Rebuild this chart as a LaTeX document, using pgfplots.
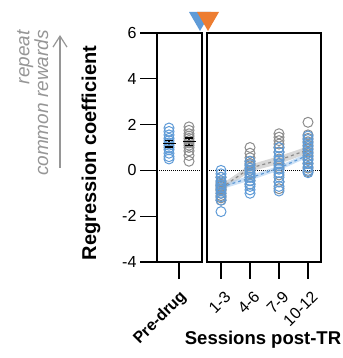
\documentclass[border=0pt]{standalone}
\usepackage{pgfplots}
\pgfplotsset{compat=1.18}
\usepackage{fontspec}
\setmainfont{Liberation Sans}
\usetikzlibrary{arrows.meta}
\definecolor{cblue}{RGB}{95,155,215}
\definecolor{cgray}{RGB}{140,140,140}
\definecolor{corange}{RGB}{237,125,49}
\definecolor{ctxt}{RGB}{150,150,150}
\definecolor{bandblue}{RGB}{170,205,240}
\definecolor{bandgray}{RGB}{190,190,190}
\pgfplotsset{panel/.style={
  scale only axis, height=229pt, ymin=-4, ymax=6,
  axis line style={line width=1.2pt},
  every tick/.append style={line width=1.2pt, black},
  tick align=outside, major tick length=17pt,
  clip=false,
  yticklabel style={font=\fontsize{16}{16}\selectfont},
  xticklabels={},
  xtick pos=bottom,
},
bluec/.style={only marks, mark=o, mark size=5pt, cblue, mark options={line width=1pt}},
grayc/.style={only marks, mark=o, mark size=5pt, cgray, mark options={line width=1pt}},
}
\tikzset{tlab/.style={rotate=45, anchor=east, inner sep=0pt, font=\fontsize{16}{16}\selectfont}}
\begin{document}
\begin{tikzpicture}
\useasboundingbox (0pt,0pt) rectangle (342pt,358pt);
% left panel
\begin{axis}[panel, at={(157pt,96pt)}, anchor=south west, width=45pt,
  xmin=0, xmax=45, xtick={22},
  ytick={-4,-2,0,2,4,6}, yticklabels={-4,-2,0,2,4,6}, ytick pos=left]
\addplot[densely dotted, black, line width=1pt] coordinates {(0,0) (45,0)};
\addplot[bluec] coordinates {(12,1.85) (12,1.7) (12,1.55) (12,1.4) (12,1.3) (12,1.2) (12,1.1) (12,1.0) (12,0.9) (12,0.75) (12,0.6) (12,0.5)};
\addplot[grayc] coordinates {(32,1.9) (32,1.75) (32,1.6) (32,1.5) (32,1.4) (32,1.3) (32,1.2) (32,1.1) (32,1.0) (32,0.85) (32,0.65) (32,0.4)};
% mean with SEM
\addplot[black, only marks, mark=-, mark size=6.5pt, mark options={line width=1.3pt},
  error bars/.cd, y dir=both, y explicit, error mark=none,
  error bar style={line width=1.3pt, black}]
  coordinates {(12,1.17) +- (0,0.15) (32,1.25) +- (0,0.16)};
\addplot[black, only marks, mark=-, mark size=4pt, mark options={line width=1.3pt}]
  coordinates {(12,1.32) (12,1.02) (32,1.41) (32,1.09)};
\node[tlab, font=\bfseries\fontsize{16}{16}\selectfont] at (axis cs:27,-5.42) {Pre-drug};
\end{axis}
% right panel
\begin{axis}[panel, at={(207pt,96pt)}, anchor=south west, width=114pt,
  xmin=0, xmax=114, xtick={14,43,72,101},
  ytick=\empty]
\addplot[densely dotted, black, line width=1pt] coordinates {(0,0) (114,0)};
\addplot[grayc] coordinates {(14,-0.3) (14,-0.5) (14,-0.6) (14,-0.65) (14,-0.7) (14,-0.8) (14,-0.85) (14,-0.9) (14,-1.0) (14,-1.1) (14,-1.2) (14,-1.3)
  (43,1.0) (43,0.75) (43,0.55) (43,0.4) (43,0.3) (43,0.2) (43,0.1) (43,0.0) (43,-0.15) (43,-0.3) (43,-0.45) (43,-0.6)
  (72,1.6) (72,1.45) (72,1.3) (72,1.15) (72,1.0) (72,0.8) (72,0.5) (72,0.3) (72,0.1) (72,-0.2) (72,-0.5) (72,-0.8)
  (101,2.1) (101,1.55) (101,1.4) (101,1.25) (101,1.1) (101,0.95) (101,0.8) (101,0.65) (101,0.5) (101,0.3) (101,0.1) (101,-0.05)};
\addplot[bluec] coordinates {(14,0.0) (14,-0.15) (14,-0.3) (14,-0.45) (14,-0.55) (14,-0.65) (14,-0.75) (14,-0.85) (14,-1.0) (14,-1.15) (14,-1.3) (14,-1.8)
  (43,0.4) (43,0.25) (43,0.1) (43,0.0) (43,-0.1) (43,-0.2) (43,-0.3) (43,-0.45) (43,-0.6) (43,-0.7) (43,-0.85) (43,-1.0)
  (72,1.0) (72,0.8) (72,0.6) (72,0.45) (72,0.3) (72,0.2) (72,0.05) (72,-0.1) (72,-0.3) (72,-0.5) (72,-0.7) (72,-0.9)
  (101,1.5) (101,1.35) (101,1.2) (101,1.05) (101,0.9) (101,0.75) (101,0.6) (101,0.45) (101,0.3) (101,0.15) (101,0.0) (101,-0.1)};
\addplot[draw=none, fill=bandgray, fill opacity=0.6] coordinates {(14,-0.62) (43,0.25) (72,0.62) (101,1.05) (101,0.75) (72,0.28) (43,-0.05) (14,-0.92)} --cycle;
\addplot[draw=none, fill=bandblue, fill opacity=0.6] coordinates {(14,-0.63) (43,-0.22) (72,0.2) (101,0.77) (101,0.57) (72,0.0) (43,-0.44) (14,-0.83)} --cycle;
\addplot[dashed, color=cgray, line width=1.2pt] coordinates {(14,-0.77) (43,0.1) (72,0.45) (101,0.9)};
\addplot[dashed, color=cblue, line width=1.2pt] coordinates {(14,-0.73) (43,-0.33) (72,0.1) (101,0.67)};
\node[tlab] at (axis cs:21,-5.40) {1-3};
\node[tlab] at (axis cs:50,-5.40) {4-6};
\node[tlab] at (axis cs:79,-5.40) {7-9};
\node[tlab] at (axis cs:108,-5.40) {10-12};
\end{axis}
% drug triangles
\fill[cblue] (189pt,346pt) -- (211pt,346pt) -- (200pt,327pt) -- cycle;
\fill[corange] (197pt,346pt) -- (219pt,346pt) -- (208pt,327pt) -- cycle;
% labels
\node[rotate=90, font=\bfseries\fontsize{20}{20}\selectfont] at (91pt,205pt) {Regression coefficient};
\node[font=\bfseries\fontsize{18.5}{18.5}\selectfont] at (263pt,18.5pt) {Sessions post-TR};
\node[rotate=90, anchor=base east, text=ctxt, font=\itshape\fontsize{19}{19}\selectfont, inner sep=0pt] at (29.3pt,328pt) {repeat};
\node[rotate=90, anchor=base east, text=ctxt, font=\itshape\fontsize{19}{19}\selectfont, inner sep=0pt] at (48pt,328pt) {common rewards};
\draw[ctxt, line width=1.2pt, -{Straight Barb[length=11pt, width=14pt]}] (60pt,190pt) -- (60pt,323pt);
\end{tikzpicture}
\end{document}
